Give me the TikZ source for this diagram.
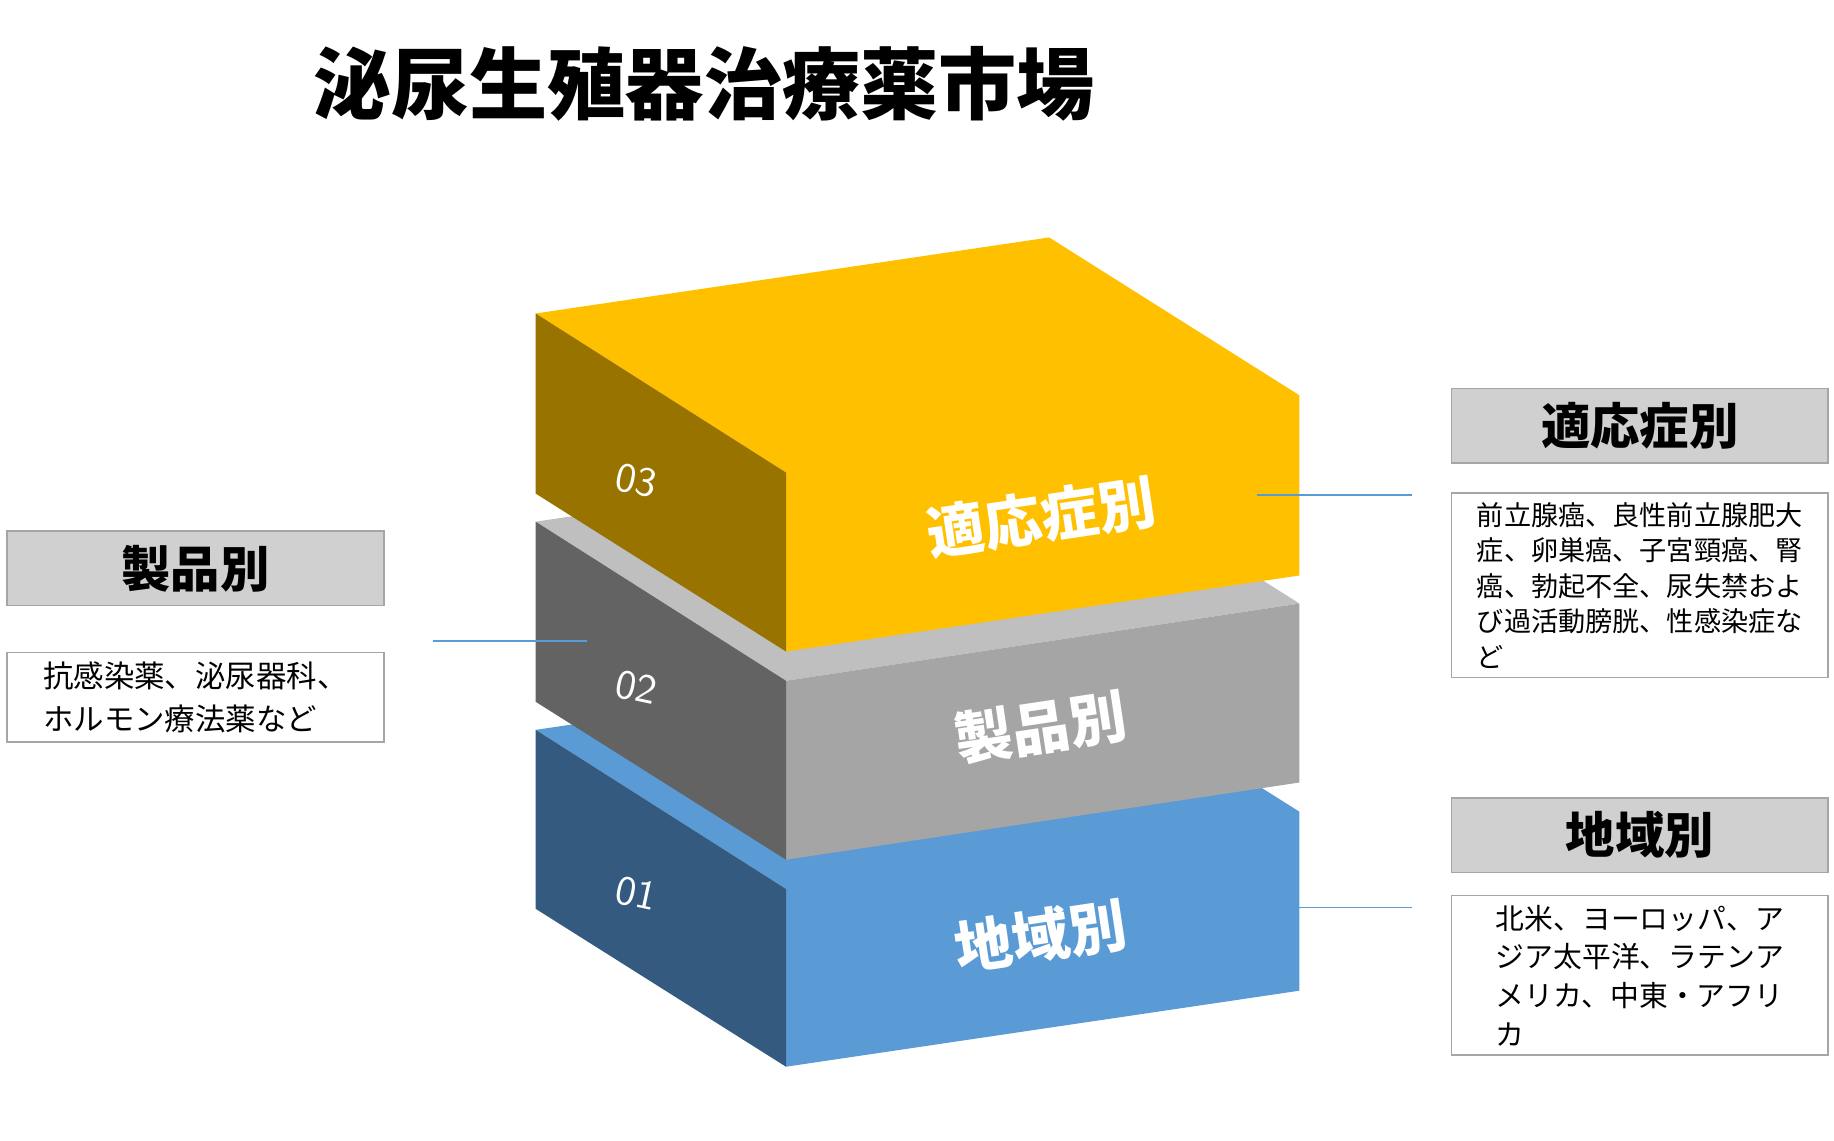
\documentclass[tikz,border=0pt]{standalone}
\usepackage{fontspec}
\newfontfamily\jp{Noto Sans CJK JP}
\usetikzlibrary{positioning}
\definecolor{yfront}{HTML}{FFC000}
\definecolor{yleft}{HTML}{997300}
\definecolor{gfront}{HTML}{A5A5A5}
\definecolor{gtop}{HTML}{BFBFBF}
\definecolor{gleft}{HTML}{636363}
\definecolor{bfront}{HTML}{5B9BD5}
\definecolor{bleft}{HTML}{345A7F}
\definecolor{headfill}{HTML}{D0D0D0}
\begin{document}
\begin{tikzpicture}
	[x=0.01cm,y=-0.01cm,
	%Styles
	header/.style={draw=gray!70,fill=headfill,minimum width=3.22cm,minimum height=0.6cm,font=\jp\bfseries\fontsize{12}{14}\selectfont},
	infobox/.style={draw=gray!70,fill=white,minimum width=3.22cm,inner sep=0.08cm,align=left,font=\jp\fontsize{6.6}{8.6}\selectfont},
	facelabel/.style={white,font=\jp\bfseries\fontsize{14}{16}\selectfont,rotate=8.5},
	number/.style={white,font=\sffamily\fontsize{10}{12}\selectfont,rotate=-12},
	link/.style={draw=bfront,thin}
	]
	\useasboundingbox (0,0) rectangle (1568,975);

	%Title
	\node[font=\jp\bfseries\fontsize{19}{22}\selectfont] (title) at (602,72) {泌尿生殖器治療薬市場};

	%Blue block
	\fill[bfront] (458,624) -- (897,559) -- (1111,694) -- (1111,847) -- (672,912) -- (672,760) -- cycle;
	\fill[bleft] (458,624) -- (672,760) -- (672,912) -- (458,777) -- cycle;
	%Gray block
	\fill[gtop] (458,446) -- (897,381) -- (1111,516) -- (672,582) -- cycle;
	\fill[gfront] (672,582) -- (1111,516) -- (1111,669) -- (672,735) -- cycle;
	\fill[gleft] (458,446) -- (672,582) -- (672,735) -- (458,600) -- cycle;
	%Yellow block
	\fill[yfront] (458,268) -- (897,203) -- (1111,338) -- (1111,492) -- (672,557) -- (672,404) -- cycle;
	\fill[yleft] (458,268) -- (672,404) -- (672,557) -- (458,422) -- cycle;

	%Block labels
	\node[facelabel] (yl) at (890,442) {適応症別};
	\node[facelabel] (gl) at (890,622) {製品別};
	\node[facelabel] (bl) at (890,800) {地域別};
	\node[number] (n3) at (544,411) {03};
	\node[number] (n2) at (544,588) {02};
	\node[number] (n1) at (544,764) {01};

	%Side boxes
	\node[header] (h1) at (1402,364) {適応症別};
	\node[infobox,anchor=north] (t1) at (1402,421) {前立腺癌、良性前立腺肥大\\症、卵巣癌、子宮頸癌、腎\\癌、勃起不全、尿失禁およ\\び過活動膀胱、性感染症な\\ど};
	\node[header] (h2) at (1402,714) {地域別};
	\node[infobox,anchor=north,font=\jp\fontsize{7.0}{9.4}\selectfont] (t2) at (1402,765) {北米、ヨーロッパ、ア\\ジア太平洋、ラテンア\\メリカ、中東・アフリ\\カ};
	\node[header] (h3) at (167,486) {製品別};
	\node[infobox,anchor=north,font=\jp\fontsize{7.4}{10.4}\selectfont] (t3) at (167,557) {抗感染薬、泌尿器科、\\ホルモン療法薬など};

	%Connectors
	\coordinate (c1a) at (1075,423); \coordinate (c1b) at (1207,423);
	\coordinate (c2a) at (1075,776); \coordinate (c2b) at (1207,776);
	\coordinate (c3a) at (370,548); \coordinate (c3b) at (502,548);
	\draw[link] (c1a) -- (c1b);
	\draw[link] (c2a) -- (c2b);
	\draw[link] (c3a) -- (c3b);
\end{tikzpicture}
\end{document}
